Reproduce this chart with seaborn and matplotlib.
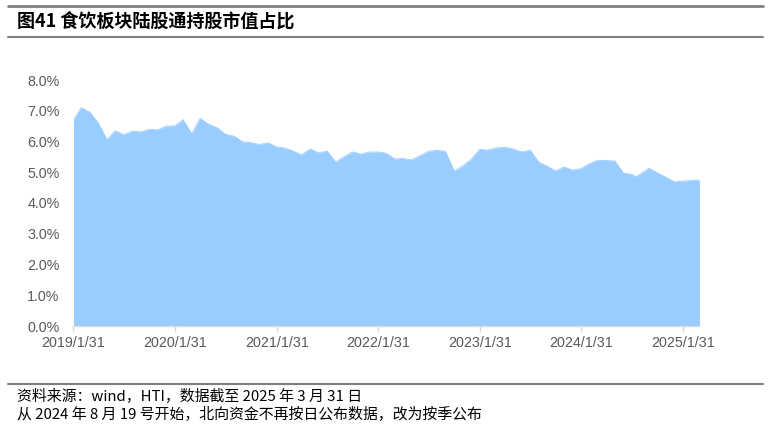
import matplotlib
matplotlib.use("Agg")
import matplotlib.pyplot as plt
import matplotlib.dates as mdates
from matplotlib.lines import Line2D
from matplotlib.ticker import FuncFormatter, MultipleLocator
import seaborn as sns
import pandas as pd
import numpy as np

# ---- data ----
monthly_start = "2019-01-31"
monthly_end = "2024-07-31"
extra_dates = ["2024-08-16", "2024-09-30", "2024-12-31", "2025-03-31"]
share_monthly = [
    6.70, 7.10, 6.95, 6.60, 6.07, 6.35, 6.22, 6.34, 6.31, 6.40, 6.38, 6.50,
    6.51, 6.71, 6.25, 6.75, 6.56, 6.45, 6.23, 6.17, 5.99, 5.96, 5.90, 5.96,
    5.82, 5.79, 5.69, 5.56, 5.76, 5.63, 5.69, 5.33, 5.51, 5.66, 5.59, 5.66,
    5.66, 5.62, 5.43, 5.45, 5.40, 5.54, 5.68, 5.72, 5.67, 5.04, 5.20, 5.42,
    5.75, 5.72, 5.79, 5.81, 5.76, 5.66, 5.72, 5.33, 5.20, 5.04, 5.17, 5.07,
    5.12, 5.28, 5.39, 5.38, 5.37, 4.98, 4.93,
]
share_extra = [4.86, 5.13, 4.69, 4.75]
tick_labels = ["2019/1/31", "2020/1/31", "2021/1/31", "2022/1/31",
               "2023/1/31", "2024/1/31", "2025/1/31"]
title = "图41 食饮板块陆股通持股市值占比"
note1 = "资料来源：wind，HTI，数据截至 2025 年 3 月 31 日"
note2 = "从 2024 年 8 月 19 号开始，北向资金不再按日公布数据，改为按季公布"

dates = list(pd.date_range(monthly_start, monthly_end, freq="ME")) + list(pd.to_datetime(extra_dates))
df = pd.DataFrame({"date": dates, "share": share_monthly + share_extra})

# ---- style ----
sns.set_theme(style="white")
plt.rcParams["font.family"] = ["Liberation Sans", "Noto Sans CJK SC", "DejaVu Sans"]

FILL = "#99CCFF"
TXT = "#595959"

fig = plt.figure(figsize=(7.69, 4.30), dpi=100)
ax = fig.add_axes([73.5 / 769, 1 - 326 / 430, (699.4 - 73.5) / 769, (326 - 80) / 430])

sns.lineplot(data=df, x="date", y="share", ax=ax, color=FILL, linewidth=0.6)
ax.fill_between(df["date"], 0, df["share"], color=FILL, linewidth=0)

ax.set_xlim(df["date"].iloc[0], df["date"].iloc[-1])
ax.set_ylim(0, 8)
ax.yaxis.set_major_locator(MultipleLocator(1))
ax.yaxis.set_major_formatter(FuncFormatter(lambda v, p: f"{v:.1f}%"))
tick_pos = pd.to_datetime([t.replace("/", "-") for t in tick_labels])
ax.set_xticks(tick_pos)
ax.set_xticklabels(tick_labels)
ax.set_xlabel("")
ax.set_ylabel("")

for s in ["top", "right", "left"]:
    ax.spines[s].set_visible(False)
ax.spines["bottom"].set_color("#D9D9D9")
ax.spines["bottom"].set_linewidth(1.0)
ax.tick_params(axis="y", length=0, pad=10, labelsize=10.3, labelcolor=TXT)
ax.tick_params(axis="x", length=4, width=1, color="#D9D9D9", pad=3,
               labelsize=10.3, labelcolor=TXT, bottom=True)
ax.grid(False)

# ---- header / footer ----
def hline(y_px, lw, color):
    y = 1 - y_px / 430
    fig.add_artist(Line2D([8 / 769, 763 / 769], [y, y], transform=fig.transFigure,
                          color=color, linewidth=lw))

hline(5.5, 2.0, "#7F7F7F")
hline(37, 1.5, "#7F7F7F")
hline(384, 1.5, "#7F7F7F")

fig.text(17 / 769, 1 - 21 / 430, title, fontsize=13, fontweight="bold",
         family=["Noto Sans CJK SC", "DejaVu Sans"], color="#000000", va="center", ha="left")
fig.text(17 / 769, 1 - 397 / 430, note1, fontsize=10.75, family=["Noto Sans CJK SC", "DejaVu Sans"],
         color="#000000", va="center", ha="left")
fig.text(17 / 769, 1 - 415 / 430, note2, fontsize=10.75, family=["Noto Sans CJK SC", "DejaVu Sans"],
         color="#000000", va="center", ha="left")

fig.savefig("out.png", dpi=100)
